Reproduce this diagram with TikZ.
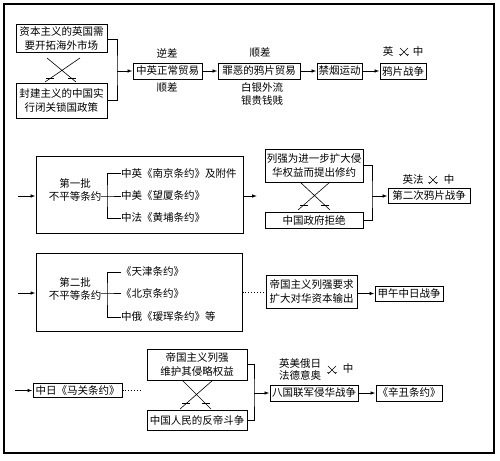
\documentclass[tikz,border=0pt]{standalone}
\usepackage{fontspec}
\setmainfont{Noto Sans CJK SC}
\usetikzlibrary{arrows.meta,calc}
\tikzset{
 box/.style={draw, line width=1pt, inner sep=0pt, align=center, font=\fontsize{10.5}{14}\selectfont},
 txt/.style={inner sep=0pt, align=center, font=\fontsize{10.5}{12.5}\selectfont},
 arr/.style={-{Latex[length=5pt,width=3.6pt]}, line width=0.9pt},
 ln/.style={line width=0.9pt},
 dots/.style={dotted, line width=0.9pt},
 xl/.style={line width=0.6pt},
 swords/.pic={\draw[line width=0.5pt] (-4,-4)--(4,4) (4,-4)--(-4,4) (-4.8,2.6)--(-1.8,2.6) (1.8,2.6)--(4.8,2.6);}
}
\begin{document}
\begin{tikzpicture}[x=1pt,y=-1pt]
\useasboundingbox (0,0) rectangle (500,460);
\draw[line width=1.2pt] (4,4) rectangle (494,453);

% ---- row 1
\node[box,minimum width=91pt,minimum height=28pt] (A) at (61.5,39) {资本主义的英国需\\要开拓海外市场};
\node[box,minimum width=91pt,minimum height=35pt] (B) at (61.5,100.5) {封建主义的中国实\\行闭关锁国政策};
\node[box,minimum width=69pt,minimum height=16pt] (C) at (167.5,71) {中英正常贸易};
\node[box,minimum width=82pt,minimum height=16pt] (D) at (259,71) {罪恶的鸦片贸易};
\node[box,minimum width=45pt,minimum height=16pt] (E) at (339.5,71) {禁烟运动};
\node[box,minimum width=46pt,minimum height=16pt] (F) at (403,71) {鸦片战争};
\coordinate (jA) at (117,71);
\draw[ln] (A.east) -| (jA) |- (B.east);
\draw[arr] (jA) -- (C);
\draw[arr] (C) -- (D);
\draw[arr] (D) -- (E);
\draw[arr] (E) -- (F);
\node[txt] (l1) at (167,53) {逆差};
\node[txt] (l2) at (167,88) {顺差};
\node[txt] (l3) at (260,53) {顺差};
\node[txt] (l4) at (262,94) {白银外流\\银贵钱贱};
\node[txt] (f1) at (388,52) {英};
\pic at (404,52) {swords};
\node[txt] (f2) at (418,52) {中};
\coordinate (x1a) at (47,58);
\coordinate (x1b) at (76,82);
\coordinate (x1c) at (80,58);
\coordinate (x1d) at (45,82);
\draw[xl] (x1a) -- (x1b) (x1c) -- (x1d);
\draw[xl] ($(x1a)!0.85!(x1b)$) ++(-4,0) -- ++(8,0);
\draw[xl] ($(x1c)!0.85!(x1d)$) ++(-4,0) -- ++(8,0);

% ---- row 2
\node[box,minimum width=207pt,minimum height=77pt] (G) at (139.5,194.5) {};
\coordinate (gin) at (18,196);
\draw[arr] (gin) -- (gin -| G.west);
\node[txt,font=\fontsize{10.5}{13}\selectfont] (g0) at (75,189.5) {第一批\\不平等条约};
\coordinate (gb) at (107,196);
\node[txt,anchor=west] (g1) at (121,173) {中英《南京条约》及附件};
\node[txt,anchor=west] (g2) at (121,196) {中美《望厦条约》};
\node[txt,anchor=west] (g3) at (121,218) {中法《黄埔条约》};
\draw[ln] (g0.east |- gb) -- (gb) -- (g2.west);
\draw[ln] (g1.west) -| (gb) |- (g3.west);
\coordinate (gout) at (257,196);
\draw[arr] (G.east |- gout) -- (gout);
\node[box,minimum width=98pt,minimum height=33pt] (H) at (314,165.5) {列强为进一步扩大侵\\华权益而提出修约};
\node[box,minimum width=98pt,minimum height=16pt] (I) at (314,220) {中国政府拒绝};
\coordinate (x2a) at (300,182);
\coordinate (x2b) at (330,210);
\coordinate (x2c) at (330,182);
\coordinate (x2d) at (298,210);
\draw[xl] (x2a) -- (x2b) (x2c) -- (x2d);
\draw[xl] ($(x2a)!0.82!(x2b)$) ++(-4,0) -- ++(8,0);
\draw[xl] ($(x2c)!0.82!(x2d)$) ++(-4,0) -- ++(8,0);
\node[box,minimum width=82pt,minimum height=15pt] (J) at (429,196) {第二次鸦片战争};
\coordinate (jH) at (372,196);
\draw[ln] (H.east) -| (jH) |- (I.east);
\draw[arr] (jH) -- (J);
\node[txt] (j1) at (413,180) {英法};
\pic at (433,180) {swords};
\node[txt] (j2) at (449,180) {中};

% ---- row 3
\node[box,minimum width=206pt,minimum height=78pt] (K) at (139,292) {};
\coordinate (kin) at (18,293);
\draw[arr] (kin) -- (kin -| K.west);
\node[txt,font=\fontsize{10.5}{13}\selectfont] (k0) at (75,289) {第二批\\不平等条约};
\coordinate (kb) at (107,293);
\node[txt,anchor=west] (k1) at (121,272) {《天津条约》};
\node[txt,anchor=west] (k2) at (121,293) {《北京条约》};
\node[txt,anchor=west] (k3) at (121,317) {中俄《瑷珲条约》等};
\draw[ln] (k0.east |- kb) -- (kb) -- (k2.west);
\draw[ln] (k1.west) -| (kb) |- (k3.west);
\node[box,minimum width=91pt,minimum height=33pt] (L) at (311.5,291.5) {帝国主义列强要求\\扩大对华资本输出};
\node[box,minimum width=68pt,minimum height=15pt] (M) at (409,293.5) {甲午中日战争};
\draw[dots] (K.east) -- (K.east -| L.west);
\draw[arr] (L.east |- M) -- (M);

% ---- row 4
\node[box,minimum width=89pt,minimum height=14pt] (N) at (77.5,390.5) {中日《马关条约》};
\coordinate (nin) at (15,390.5);
\draw[arr] (nin) -- (N);
\coordinate (nout) at (142,390.5);
\draw[dots] (N.east) -- (nout);
\node[box,minimum width=100pt,minimum height=31pt] (O) at (197,364.5) {帝国主义列强\\维护其侵略权益};
\node[box,minimum width=100pt,minimum height=20pt] (P) at (197,420) {中国人民的反帝斗争};
\coordinate (x3a) at (182,380);
\coordinate (x3b) at (211,409);
\coordinate (x3c) at (213,380);
\coordinate (x3d) at (180,409);
\draw[xl] (x3a) -- (x3b) (x3c) -- (x3d);
\draw[xl] ($(x3a)!0.82!(x3b)$) ++(-4,0) -- ++(8,0);
\draw[xl] ($(x3c)!0.82!(x3d)$) ++(-4,0) -- ++(8,0);
\node[box,minimum width=88pt,minimum height=16pt] (Q) at (314,393) {八国联军侵华战争};
\node[box,minimum width=66pt,minimum height=16pt] (R) at (409,393) {《辛丑条约》};
\coordinate (jO) at (254,393);
\draw[ln] (O.east) -| (jO) |- (P.east);
\draw[arr] (jO) -- (Q);
\draw[arr] (Q) -- (R);
\node[txt,font=\fontsize{10.5}{12}\selectfont] (q0) at (300,369) {英美俄日\\法德意奥};
\pic at (332,370) {swords};
\node[txt] (q1) at (348,368) {中};
\end{tikzpicture}
\end{document}
